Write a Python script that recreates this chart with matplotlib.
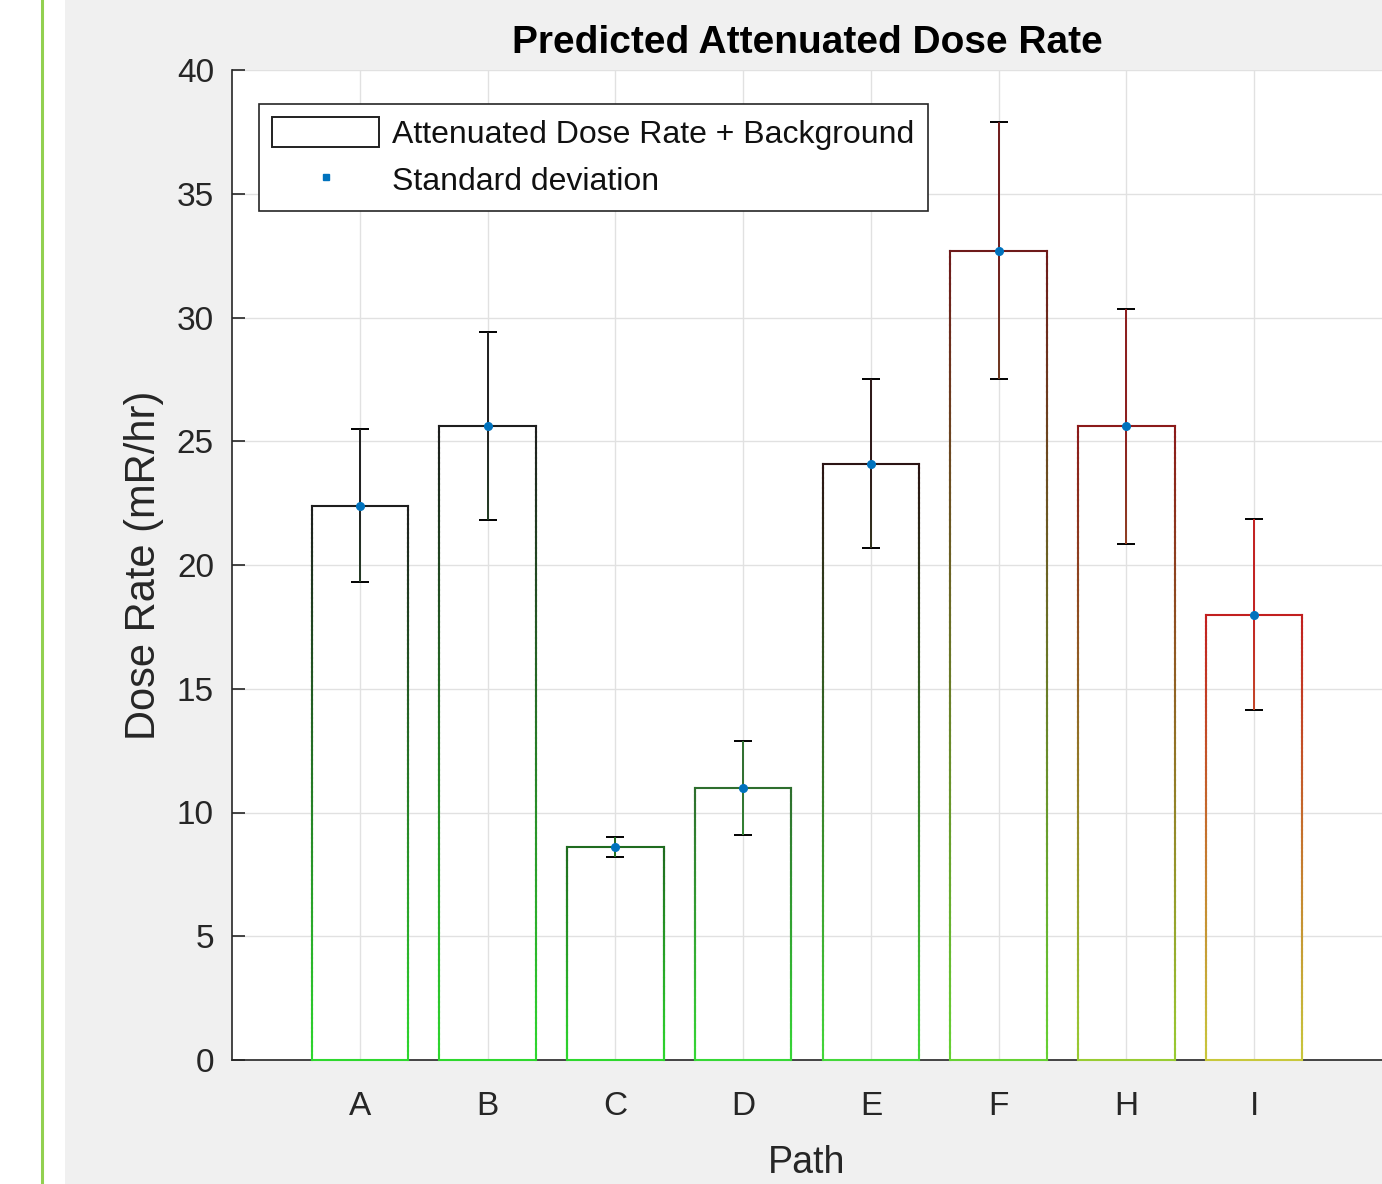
import matplotlib
matplotlib.use('Agg')
import matplotlib.pyplot as plt
import numpy as np
from matplotlib.collections import LineCollection
from matplotlib.patches import Rectangle
from matplotlib.lines import Line2D
import matplotlib.colors as mcolors

# ---- data ----
paths = ['A', 'B', 'C', 'D', 'E', 'F', 'H', 'I']
dose = [22.4, 25.6, 8.6, 11.0, 24.1, 32.7, 25.6, 18.0]
std = [3.1, 3.8, 0.4, 1.9, 3.4, 5.2, 4.75, 3.85]
yticks = [0, 5, 10, 15, 20, 25, 30, 35, 40]

# ---- styles ----
bottom_colors = ['#2ed82e', '#2ed82e', '#2ed82e', '#36d836', '#44d83a', '#66d233', '#99cc33', '#c8c83c']
top_colors = ['#1e1e1e', '#1e1e1e', '#1f6b1f', '#2e6e2e', '#2b1414', '#6e1a1a', '#8b1a1a', '#c21f1f']
FONT = 'Liberation Sans'
plt.rcParams['font.family'] = [FONT, 'DejaVu Sans']

W, H = 1382, 1184
fig = plt.figure(figsize=(W / 100, H / 100), dpi=100, facecolor='white')

# gray panel and green line of the screenshot
fig.add_artist(Rectangle((65 / W, 0), 1, 1, transform=fig.transFigure,
                         facecolor='#f0f0f0', edgecolor='none', zorder=-10))
fig.add_artist(Line2D([42 / W, 42 / W], [0, 1], transform=fig.transFigure,
                      color='#92d050', lw=2.2, zorder=-5))

ax = fig.add_axes([232 / W, 1 - 1060 / H, (1382 - 232) / W, (1060 - 70) / H])
ax.set_facecolor('white')

x = np.arange(1, len(paths) + 1)
bars = ax.bar(x, dose, width=0.755, facecolor='none', edgecolor='none', zorder=2)


def interp(c0, c1, t):
    a = np.array(mcolors.to_rgb(c0))
    b = np.array(mcolors.to_rgb(c1))
    t = np.clip(t, 0, 1)
    return tuple(a + (b - a) * t)


N = 120
for i, b in enumerate(bars):
    x0, w, h = b.get_x(), b.get_width(), b.get_height()
    c0, c1 = bottom_colors[i], top_colors[i]
    ys = np.linspace(0, h, N + 1)
    segs, cols = [], []
    for xx in (x0, x0 + w):
        for k in range(N):
            segs.append([(xx, ys[k]), (xx, ys[k + 1])])
            cols.append(interp(c0, c1, (ys[k] + ys[k + 1]) / 2 / h))
    segs.append([(x0, 0), (x0 + w, 0)]); cols.append(interp(c0, c1, 0))
    segs.append([(x0, h), (x0 + w, h)]); cols.append(interp(c0, c1, 1))
    lc = LineCollection(segs, colors=cols, linewidths=1.5,
                        capstyle='projecting', zorder=3)
    lc.set_clip_on(False)
    ax.add_collection(lc)

    # error bar
    xc = x0 + w / 2
    lo, hi = dose[i] - std[i], dose[i] + std[i]
    eb = ax.errorbar([xc], [dose[i]], yerr=[std[i]], fmt='none', capsize=6.5,
                     capthick=1.4, elinewidth=0, ecolor='k', zorder=4)
    for cap in eb[1]:
        yv = cap.get_ydata()[0]
        cap.set_color(interp(c0, c1, yv / h))
    for bl in eb[2]:
        bl.set_visible(False)
    ys2 = np.linspace(lo, hi, N + 1)
    segs2 = [[(xc, ys2[k]), (xc, ys2[k + 1])] for k in range(N)]
    cols2 = [interp(c0, c1, (ys2[k] + ys2[k + 1]) / 2 / h) for k in range(N)]
    ax.add_collection(LineCollection(segs2, colors=cols2, linewidths=1.4, zorder=4))

ax.plot(x, dose, linestyle='none', marker='.', markersize=11, color='#0072BD', zorder=5)

ax.set_xlim(0, 9)
ax.set_ylim(0, 40)
ax.set_xticks(x)
ax.set_xticklabels(paths)
ax.set_yticks(yticks)
ax.grid(True, color='#e1e1e1', linewidth=1.0, zorder=0)
ax.set_axisbelow(True)
for s in ('top', 'right'):
    ax.spines[s].set_visible(False)
for s in ('left', 'bottom'):
    ax.spines[s].set_color('#262626')
    ax.spines[s].set_linewidth(1.2)
ax.tick_params(axis='both', direction='in', length=9, width=1.2, colors='#262626',
               labelsize=24, labelcolor='#262626')
ax.tick_params(axis='y', pad=13)
ax.tick_params(axis='x', pad=22, length=0)

ax.set_title('Predicted Attenuated Dose Rate', fontsize=28, fontweight='bold', pad=12)
ax.set_xlabel('Path', fontsize=27, color='#262626', labelpad=17)
ax.set_ylabel('Dose Rate (mR/hr)', fontsize=30, color='#262626', labelpad=9)

h1 = Rectangle((0, 0), 1, 1, facecolor='white', edgecolor='#202020', linewidth=1.4)
h2 = Line2D([], [], linestyle='none', marker='s', markersize=4, color='#0072BD')
leg = ax.legend([h1, h2], ['Attenuated Dose Rate + Background', 'Standard deviation'],
                loc='upper left', bbox_to_anchor=(27 / 1150, (1060 - 104) / 990),
                borderaxespad=0, fontsize=23, handlelength=3.35, handleheight=1.05,
                handletextpad=0.4, labelspacing=0.45, borderpad=0.42,
                fancybox=False, framealpha=1, edgecolor='#262626')
leg.get_frame().set_linewidth(1.2)
for t in leg.get_texts():
    t.set_color('#111111')

fig.savefig('out.png', dpi=100, facecolor=fig.get_facecolor())
